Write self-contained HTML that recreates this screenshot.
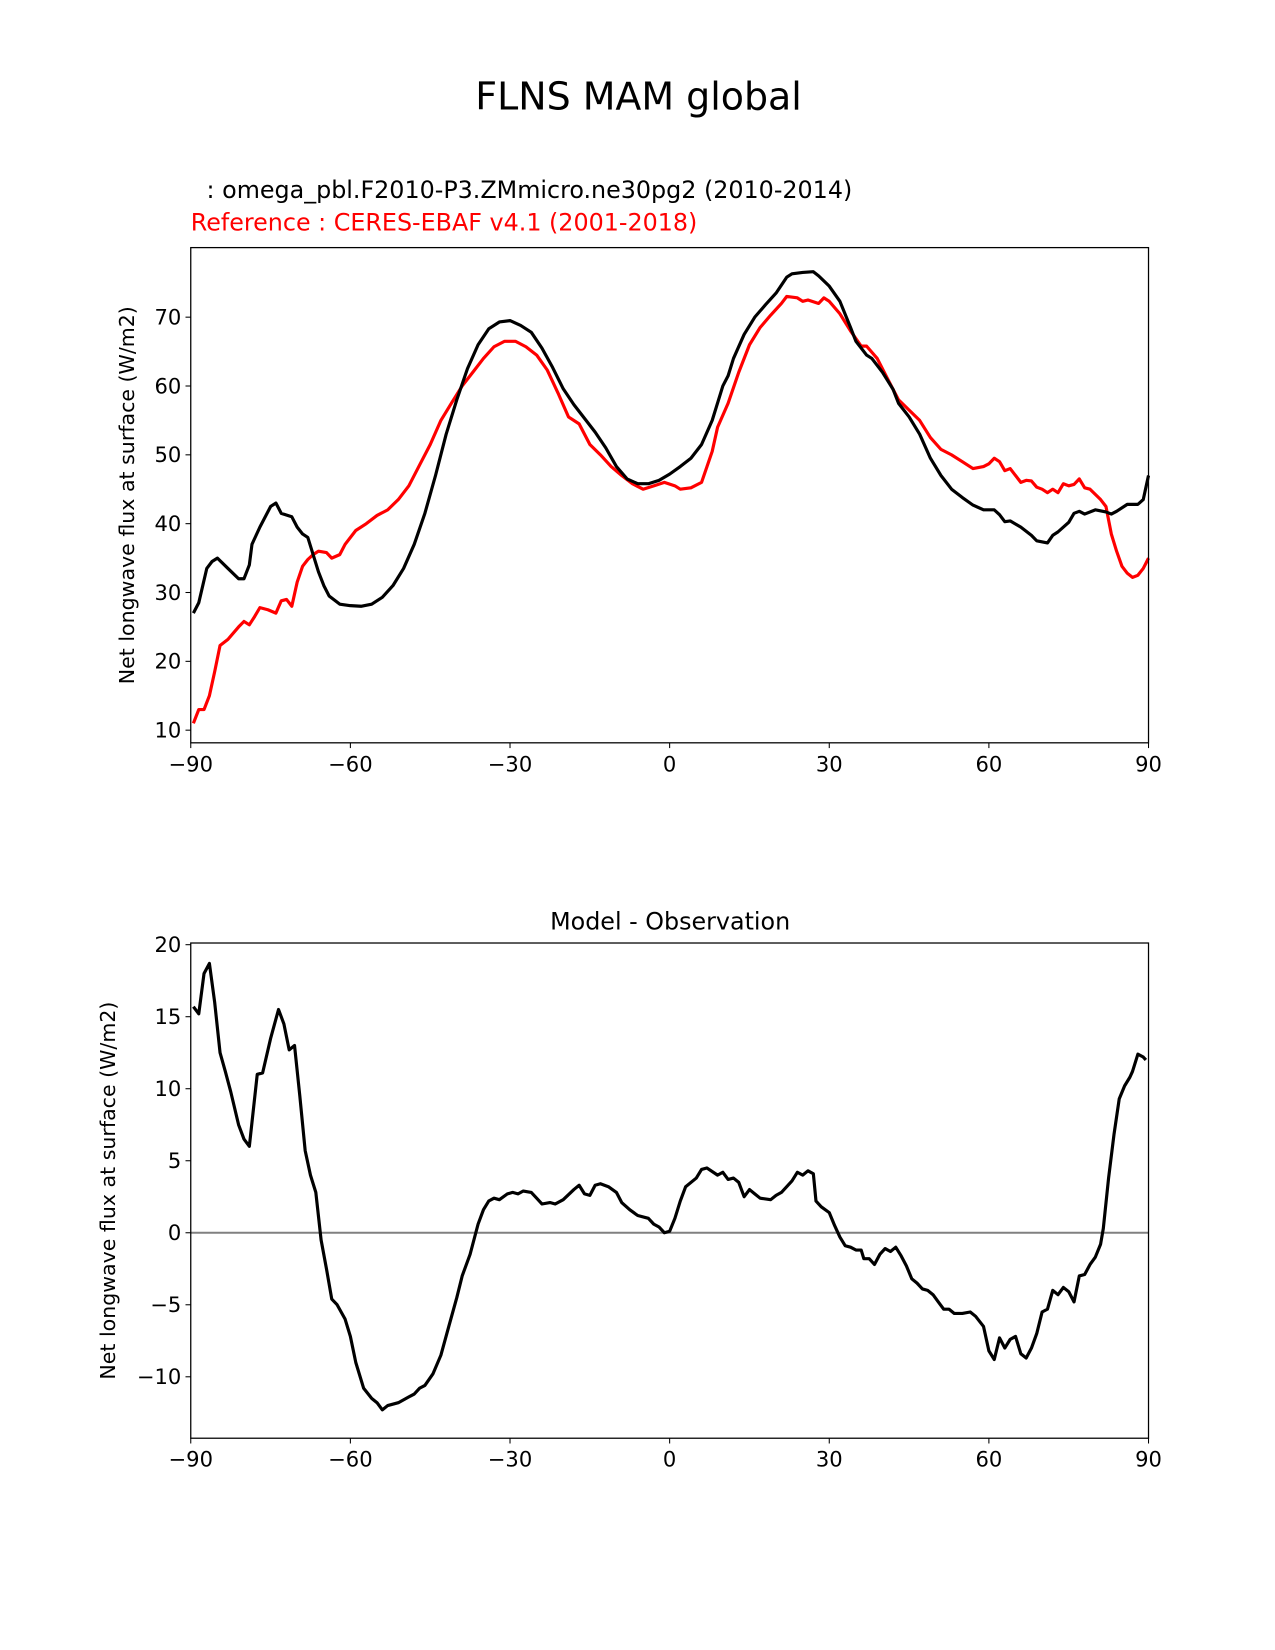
<!DOCTYPE html>
<html><head><meta charset="utf-8"><style>
html,body{margin:0;padding:0;background:#fff;}
svg{display:block;font-family:"DejaVu Sans","Liberation Sans",sans-serif;}
</style></head><body>
<svg id="fig" width="1275" height="1650" viewBox="0 0 1210 1566" xmlns="http://www.w3.org/2000/svg">
<rect width="1210" height="1566" fill="#fff"/>
<text x="606" y="104" font-size="36" text-anchor="middle">FLNS MAM global</text>
<text x="196" y="188" font-size="22.6">: omega_pbl.F2010-P3.ZMmicro.ne30pg2 (2010-2014)</text>
<text x="181" y="219" font-size="22.6" fill="#f00">Reference : CERES-EBAF v4.1 (2001-2018)</text>
<text x="636" y="882" font-size="22.6" text-anchor="middle">Model - Observation</text>
<g id="top"></g>
<g id="bot"></g>
</svg>
<script>
const modelLat=[-89.5,-88.5,-87,-86,-85,-83,-81,-80,-79,-78.5,-77,-75,-74,-73,-71,-70,-69,-68,-66,-65,-64,-62,-60,-58,-56,-54,-52,-50,-48,-46,-44,-42,-40,-38,-36,-34,-32,-30,-28,-26,-24,-22,-20,-18,-16,-14,-12,-10,-8,-6,-4,-2,0,2,4,6,8,10,11,12,14,16,18,20,22,23,25,27,28,30,32,34,35,37,38,40,42,43,45,47,49,51,53,55,57,59,61,62,63,64,66,68,69,71,72,73,75,76,77,78,80,82,83,84,86,88,89,90];
const modelVal=[27,28.5,33.5,34.5,35,33.5,32,32,34,37,39.5,42.5,43,41.5,41,39.5,38.5,38,33,31,29.5,28.3,28.1,28,28.3,29.3,31,33.5,37,41.5,47,53,58,62.5,66,68.3,69.3,69.5,68.8,67.8,65.5,62.7,59.6,57.3,55.3,53.3,51,48.3,46.5,45.8,45.8,46.3,47.2,48.3,49.5,51.5,55,60,61.5,64,67.5,70,71.8,73.5,75.8,76.3,76.5,76.6,76,74.5,72.3,68.5,66.5,64.5,64,62,59.5,57.5,55.5,53,49.5,47,45,43.8,42.7,42,42,41.3,40.3,40.4,39.5,38.3,37.5,37.2,38.3,38.8,40.2,41.5,41.8,41.4,42,41.7,41.4,41.8,42.8,42.8,43.5,47];
const obsLat=[-89.5,-88.5,-87.5,-86.5,-85.5,-84.5,-83,-81,-80,-79,-78,-77,-75.5,-74,-73,-72,-71,-70,-69,-68,-67,-66,-64.5,-63.5,-62,-61,-59,-57,-55,-53,-51,-49,-47,-45,-43,-41,-39,-37,-35,-33,-31,-29,-27,-25,-23,-21,-19,-17,-15,-13,-11,-9,-7,-5,-3,-1,1,2,4,6,8,9,11,13,15,17,19,21,22,24,25,26,28,29,30,32,34,36,37,39,41,43,45,47,49,51,53,55,57,59,60,61,62,63,64,66,67,68,69,70,71,72,73,74,75,76,77,78,79,81,82,83,84,85,86,87,88,89,90];
const obsVal=[11,13,13,15,18.5,22.3,23.2,25,25.8,25.3,26.5,27.8,27.5,27,28.8,29,28,31.5,33.8,34.8,35.5,36,35.8,35,35.5,37,39,40,41.2,42,43.5,45.5,48.5,51.5,55,57.5,60,62,64,65.7,66.5,66.5,65.7,64.5,62.3,59,55.5,54.5,51.5,50,48.3,47,45.8,45,45.5,46,45.5,45,45.2,46,50.5,54,57.5,62,66,68.5,70.3,72,73,72.8,72.3,72.5,72,72.8,72.3,70.5,68,65.8,65.8,64,61,58,56.5,55,52.5,50.8,50,49,48,48.3,48.7,49.5,49,47.7,48,46,46.3,46.2,45.3,45,44.5,45,44.5,45.8,45.5,45.7,46.5,45.2,45,43.5,42.5,38.5,36,33.8,32.8,32.2,32.5,33.5,35];
const diffLat=[-89.5,-88.5,-87.5,-86.5,-85.5,-84.5,-83.5,-82.5,-81,-80,-79,-77.5,-76.5,-75,-73.5,-72.5,-71.5,-70.5,-69.5,-68.5,-67.5,-66.5,-65.5,-64.5,-63.5,-62.5,-61,-60,-59,-57.5,-56,-55,-54,-53,-51,-49,-48,-47,-46,-44.5,-43,-41.5,-40,-39,-37.5,-36,-35,-34,-33,-32,-30.5,-29.5,-28.5,-27.5,-26,-25,-24,-22.5,-21.5,-20,-18,-17,-16,-15,-14,-13,-11.5,-10,-9,-7.5,-6,-4,-3,-2,-1,0,1,2,3,5,6,7,9,10,11,12,13,14,15,16,17,19,20,21,23,24,25,26,27,27.5,28.5,30,31,32,33,34,35,36,36.5,37.5,38.5,39.5,40.5,41.5,42.5,43.5,44.5,45.5,46.5,47.5,48.5,49.5,50.5,51.5,52.5,53.5,55,56.5,57.5,59,60,61,62,63,64,65,66,67,68,69,70,71,72,73,74,75,76,77,78,79,80,81,81.5,82.5,83.5,84.5,85.5,86.5,87,88,89,89.5];
const diffVal=[15.7,15.2,18,18.7,16,12.5,11.2,9.8,7.5,6.5,6,11,11.1,13.5,15.5,14.5,12.7,13,9.5,5.7,4,2.8,-0.5,-2.5,-4.6,-5,-6,-7.2,-9,-10.8,-11.5,-11.8,-12.3,-12,-11.8,-11.4,-11.2,-10.8,-10.6,-9.8,-8.5,-6.5,-4.5,-3,-1.5,0.6,1.6,2.2,2.4,2.3,2.7,2.8,2.7,2.9,2.8,2.4,2,2.1,2,2.3,3,3.3,2.7,2.6,3.3,3.4,3.2,2.8,2.1,1.6,1.2,1,0.6,0.4,0,0.1,1,2.2,3.2,3.8,4.4,4.5,4,4.2,3.7,3.8,3.5,2.5,3,2.7,2.4,2.3,2.6,2.8,3.6,4.2,4,4.3,4.1,2.2,1.8,1.4,0.5,-0.3,-0.9,-1,-1.2,-1.2,-1.8,-1.8,-2.2,-1.5,-1.1,-1.3,-1,-1.6,-2.3,-3.2,-3.5,-3.9,-4,-4.3,-4.8,-5.3,-5.3,-5.6,-5.6,-5.5,-5.8,-6.5,-8.2,-8.8,-7.3,-8,-7.4,-7.2,-8.4,-8.7,-8,-7,-5.5,-5.3,-4,-4.3,-3.8,-4.1,-4.8,-3,-2.9,-2.2,-1.7,-0.8,0.3,3.8,6.8,9.3,10.2,10.8,11.2,12.4,12.2,12];
const xTicks=[-90,-60,-30,0,30,60,90];
const topYTicks=[10,20,30,40,50,60,70];
const botYTicks=[-10,-5,0,5,10,15,20];

const NS="http://www.w3.org/2000/svg";
function mk(p,tag,at){const e=document.createElementNS(NS,tag);for(const k in at)e.setAttribute(k,at[k]);p.appendChild(e);return e;}
function lbl(t){return t<0?'\u2212'+Math.abs(t):String(t);}
function axes(g,x0,x1,y0,y1,ymin,ymax,yTicks,ylab,ylx,pre){
  const X=v=>x0+(v+90)/180*(x1-x0);
  const Y=v=>y1-(v-ymin)/(ymax-ymin)*(y1-y0);
  for(const t of xTicks){
    const l=mk(g,'line',{x1:X(t),x2:X(t),y1:y1,y2:y1+5,stroke:'#000','stroke-width':1});
    
    
    const tx=mk(g,'text',{x:X(t),y:y1+27,'font-size':20,'text-anchor':'middle'});tx.textContent=lbl(t);
    
    
  }
  for(const t of yTicks){
    const l=mk(g,'line',{x1:x0-5,x2:x0,y1:Y(t),y2:Y(t),stroke:'#000','stroke-width':1});
    
    
    const tx=mk(g,'text',{x:x0-9,y:Y(t)+7,'font-size':20,'text-anchor':'end'});tx.textContent=lbl(t);
    
    
  }
  const yl=mk(g,'text',{x:0,y:0,'font-size':19.5,'text-anchor':'middle',transform:`translate(${ylx},${(y0+y1)/2}) rotate(-90)`});
  yl.textContent=ylab;
  
  
  return {X,Y};
}
function line(g,lat,val,X,Y,color,name){
  const d=lat.map((a,i)=>(i?'L':'M')+X(a).toFixed(1)+','+Y(val[i]).toFixed(1)).join('');
  const p=mk(g,'path',{d:d,fill:'none',stroke:color,'stroke-width':3,'stroke-linejoin':'round'});
  
  
}
function frame(g,x0,x1,y0,y1,pre){
  const r=mk(g,'rect',{x:x0,y:y0,width:x1-x0,height:y1-y0,fill:'none',stroke:'#000','stroke-width':1.2});
  
  
}
const gt=document.getElementById('top');
const a=axes(gt,181,1090,235,705,10-(705-693)/6.533,10+(693-235)/6.533,topYTicks,'Net longwave flux at surface (W/m2)',127,'top-');
line(gt,obsLat,obsVal,a.X,a.Y,'#f00','observation-line');
line(gt,modelLat,modelVal,a.X,a.Y,'#000','model-line');
frame(gt,181,1090,235,705,'top-');
const gb=document.getElementById('bot');
const b=axes(gb,181,1090,895,1365,-(1365-1170)/13.67,(1170-895)/13.67,botYTicks,'Net longwave flux at surface (W/m2)',109,'diff-');
const z=mk(gb,'line',{x1:181,x2:1090,y1:b.Y(0),y2:b.Y(0),stroke:'#808080','stroke-width':2});


line(gb,diffLat,diffVal,b.X,b.Y,'#000','difference-line');
frame(gb,181,1090,895,1365,'diff-');
</script>
</body></html>
